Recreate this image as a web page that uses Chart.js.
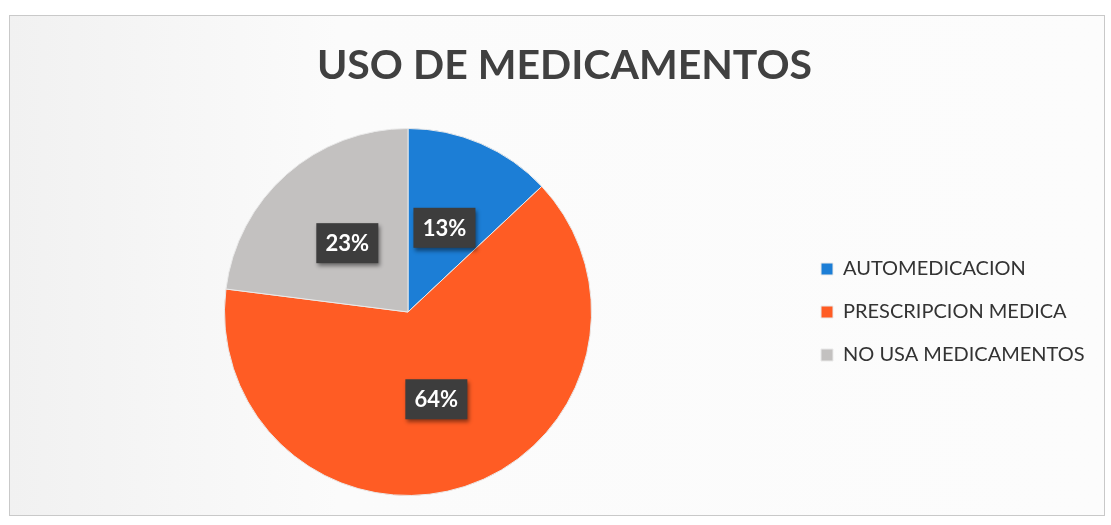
<!DOCTYPE html>
<html>
<head>
<meta charset="utf-8">
<script src="https://cdn.jsdelivr.net/npm/chart.js@4/dist/chart.umd.min.js"></script>
<style>
  html, body { margin: 0; padding: 0; background: #ffffff; }
  #frame { position: absolute; left: 9px; top: 15px; width: 1094px; height: 499px;
           border: 1px solid #c9c9c9; background: linear-gradient(90deg, #f1f1f1 0%, #fbfbfb 30%, #fcfcfc 100%); }
  #wrap { position: absolute; left: 0; top: 0; width: 1111px; height: 525px; }
</style>
</head>
<body>
<div id="frame"></div>
<div id="wrap"><canvas id="c" width="1111" height="525"></canvas></div>
<script>
const categories = ['AUTOMEDICACION', 'PRESCRIPCION MEDICA', 'NO USA MEDICAMENTOS'];
const values = [13, 64, 23];
const valueLabels = ['13%', '64%', '23%'];
const colors = ['#1c7ed6', '#ff5c24', '#c3c1c0'];
const titleText = 'USO DE MEDICAMENTOS';

const legendWidthPlugin = {
  id: 'legendWidth',
  afterInit(chart) {
    const lg = chart.legend;
    if (!lg) return;
    const orig = lg.fit.bind(lg);
    lg.fit = function () { orig(); this.width = 313; };
  }
};

const boxLabels = {
  id: 'boxLabels',
  afterDatasetsDraw(chart) {
    const ctx = chart.ctx;
    const meta = chart.getDatasetMeta(0);
    ctx.save();
    ctx.font = 'bold 22px Lato';
    ctx.textAlign = 'center';
    ctx.textBaseline = 'middle';
    meta.data.forEach((arc, i) => {
      const p = arc.tooltipPosition();
      const w = 62, h = 40;
      ctx.save();
      ctx.shadowColor = 'rgba(0,0,0,0.45)';
      ctx.shadowBlur = 4;
      ctx.shadowOffsetX = 2;
      ctx.shadowOffsetY = 3;
      ctx.fillStyle = '#3d3d3d';
      ctx.fillRect(p.x - w / 2, p.y - h / 2, w, h);
      ctx.restore();
      ctx.fillStyle = '#ffffff';
      ctx.fillText(valueLabels[i], p.x, p.y + 1);
    });
    ctx.restore();
  }
};

new Chart(document.getElementById('c'), {
  type: 'pie',
  data: {
    labels: categories,
    datasets: [{
      data: values,
      backgroundColor: colors,
      borderColor: '#e9e9e9',
      borderWidth: 1
    }]
  },
  options: {
    responsive: false,
    animation: false,
    layout: { padding: { left: 18, right: 0, top: 0, bottom: 29 } },
    plugins: {
      tooltip: { enabled: false },
      title: {
        display: true,
        text: titleText,
        color: '#404040',
        font: { family: 'Lato', size: 41, weight: 'bold', lineHeight: 1.2 },
        padding: { top: 41, bottom: 37.8 }
      },
      legend: {
        position: 'right',
        align: 'center',
        fullSize: false,
        labels: {
          color: '#333333',
          font: { family: 'Lato', size: 20 },
          boxWidth: 12,
          boxHeight: 12,
          padding: 23
        }
      }
    }
  },
  plugins: [legendWidthPlugin, boxLabels]
});
</script>
</body>
</html>
